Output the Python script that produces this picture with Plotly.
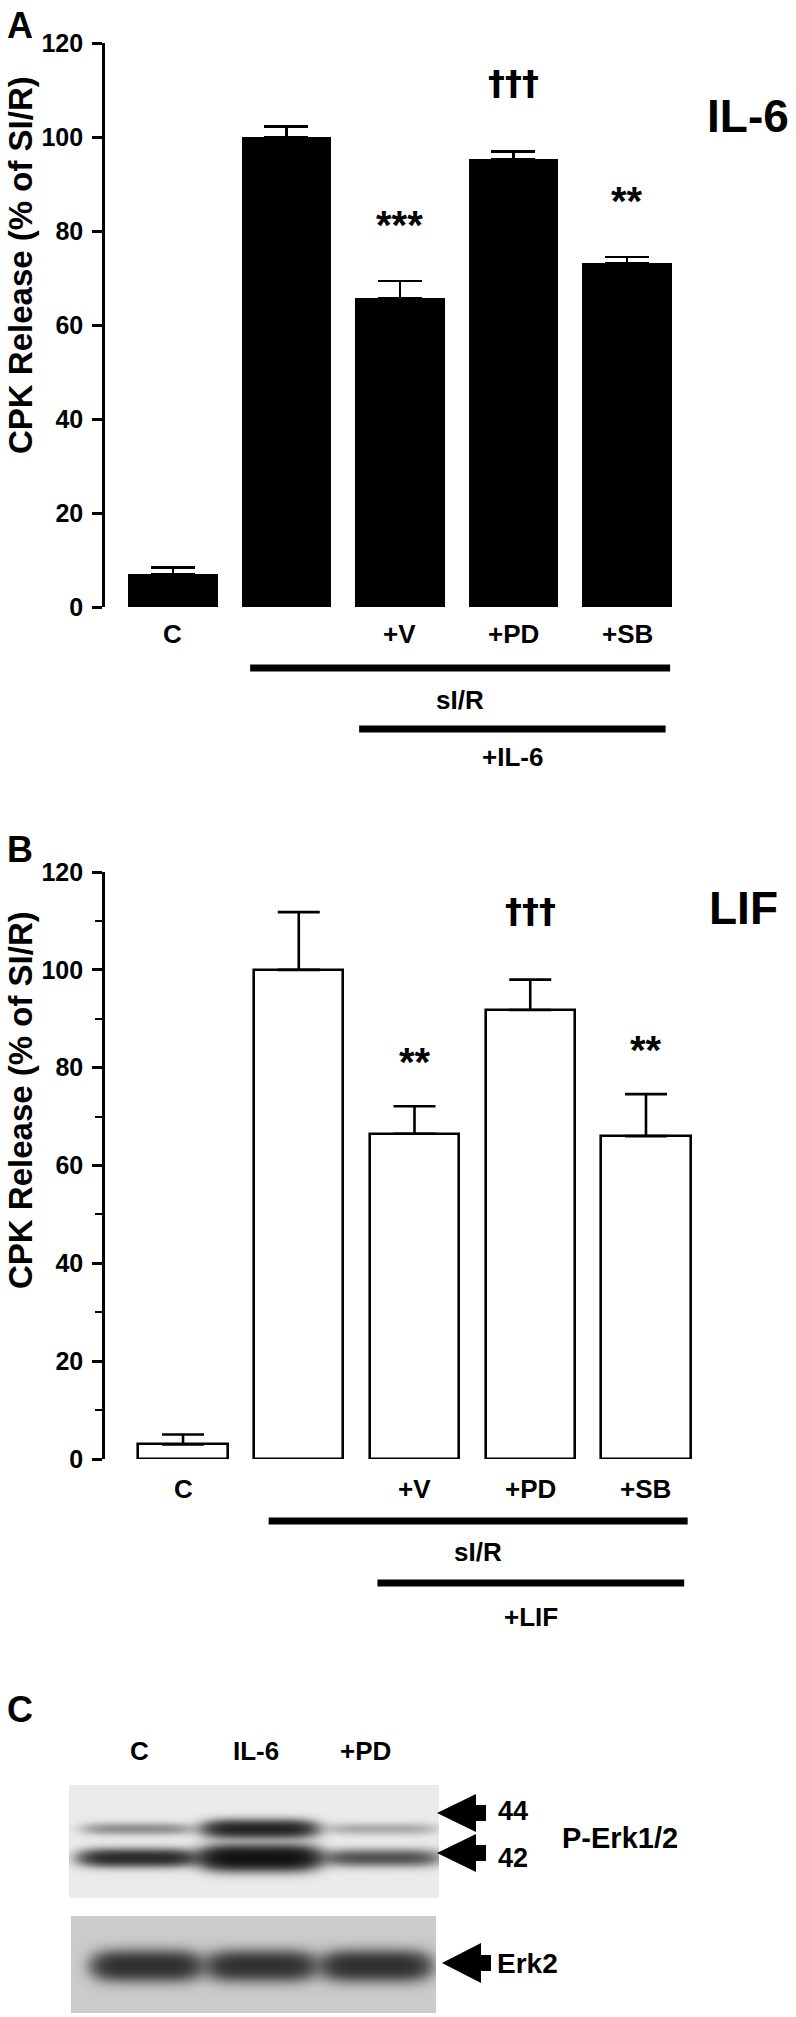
import numpy as np
import plotly.graph_objects as go

W, H = 796, 2017


def px(x):
    return x / W


def py(y):
    return 1 - y / H


# ---------------- data ----------------
categories = ["C", "sI/R", "+V", "+PD", "+SB"]
bar_labels = ["C", "", "+V", "+PD", "+SB"]

il6_values = [7.0, 100.0, 65.7, 95.3, 73.2]
il6_errors = [1.4, 2.2, 3.7, 1.6, 1.3]
il6_marks = ["", "", "***", "†††", "**"]

lif_values = [3.0, 100.0, 66.5, 91.8, 66.0]
lif_errors = [2.0, 11.8, 5.6, 6.2, 8.6]
lif_marks = ["", "", "**", "†††", "**"]

yticks = [0, 20, 40, 60, 80, 100, 120]

blot_lanes = ["C", "IL-6", "+PD"]
perk44_intensity = [0.28, 1.1, 0.18]
perk42_intensity = [1.0, 1.6, 0.6]
erk2_intensity = [1.3, 1.25, 1.3]
size_markers = ["44", "42"]

FONT = "Liberation Sans"
idx = list(range(len(categories)))

fig = go.Figure()

# Panel A bars (black)
fig.add_trace(go.Bar(
    x=idx, y=il6_values, width=0.79,
    marker=dict(color="black", line=dict(width=0)),
    error_y=dict(type="data", array=il6_errors, arrayminus=[0] * 5, symmetric=False,
                 color="black", thickness=2.6, width=22),
    xaxis="x", yaxis="y", showlegend=False, hoverinfo="skip",
))

# Panel B bars (white)
fig.add_trace(go.Bar(
    x=idx, y=lif_values, width=0.77,
    marker=dict(color="white", line=dict(color="black", width=2.6)),
    error_y=dict(type="data", array=lif_errors, arrayminus=[0] * 5, symmetric=False,
                 color="black", thickness=2.6, width=21),
    xaxis="x2", yaxis="y2", showlegend=False, hoverinfo="skip",
))


# ---------------- Western blots (panel C) ----------------
def blot_image(wpx, hpx, lane0, lane_step, bands):
    xs = np.arange(wpx) + 0.5
    ys = np.arange(hpx) + 0.5
    X, Y = np.meshgrid(xs, ys)
    Z = np.zeros_like(X)
    for yc, hh, intens, halfw in bands:
        for i, a in enumerate(intens):
            xc = lane0 + lane_step * i
            h_i = hh * (1.35 if a > 1.05 else 1.0)
            Z += a * np.exp(-((Y - yc) / h_i) ** 2) * np.exp(-(np.abs(X - xc) / halfw) ** 5)
    return xs, ys, 1 - np.exp(-1.8 * Z)


xs1, ys1, z1 = blot_image(370, 113, 68, 122,
                          [(43, 6.0, perk44_intensity, 55), (72, 8.0, perk42_intensity, 57)])
fig.add_trace(go.Heatmap(x=xs1, y=ys1, z=z1, zmin=0, zmax=1, zsmooth="best",
                         colorscale=[[0, "#ebebeb"], [1, "#050505"]], showscale=False,
                         xaxis="x3", yaxis="y3", hoverinfo="skip"))

xs2, ys2, z2 = blot_image(365, 97, 75, 114.5, [(49, 9.5, erk2_intensity, 52)])
fig.add_trace(go.Heatmap(x=xs2, y=ys2, z=z2, zmin=0, zmax=1, zsmooth="best",
                         colorscale=[[0, "#cbcbcb"], [1, "#1e1e1e"]], showscale=False,
                         xaxis="x4", yaxis="y4", hoverinfo="skip"))

tickfont = dict(family=FONT, size=25, color="black", weight="bold")
yaxis_common = dict(range=[0, 120], tickvals=yticks, showline=True, linecolor="black",
                    linewidth=2.6, ticks="outside", ticklen=10, tickwidth=2.6,
                    tickcolor="black", tickfont=tickfont, showgrid=False, zeroline=False,
                    fixedrange=True, ticklabelstandoff=4, automargin=False)
hidden = dict(visible=False, automargin=False, fixedrange=True)

fig.update_layout(
    width=W, height=H, margin=dict(l=0, r=0, t=0, b=0, pad=0, autoexpand=False),
    paper_bgcolor="white", plot_bgcolor="rgba(0,0,0,0)",
    showlegend=False, bargap=0,
    xaxis=dict(domain=[px(105), 1], range=[-0.599, 5.489], **hidden),
    yaxis=dict(domain=[py(607), py(43)], anchor="x", **yaxis_common),
    xaxis2=dict(domain=[px(105), 1], range=[-0.674, 5.296], **hidden),
    yaxis2=dict(domain=[py(1459), py(872)], anchor="x2",
                minor=dict(dtick=10, ticks="outside", ticklen=7, tickwidth=2.2,
                           tickcolor="black", showgrid=False),
                **yaxis_common),
    xaxis3=dict(domain=[px(69), px(439)], range=[0, 370], **hidden),
    yaxis3=dict(domain=[py(1898), py(1785)], range=[113, 0], anchor="x3", **hidden),
    xaxis4=dict(domain=[px(71), px(436)], range=[0, 365], **hidden),
    yaxis4=dict(domain=[py(2013), py(1916)], range=[97, 0], anchor="x4", **hidden),
)

ann = []


def text(x, y, s, size, xref="paper", yref="paper", xanchor="center", yanchor="middle",
         angle=0, yshift=0, family=FONT):
    ann.append(dict(x=x, y=y, text=s, xref=xref, yref=yref, xanchor=xanchor,
                    yanchor=yanchor, showarrow=False, textangle=angle, yshift=yshift,
                    font=dict(family=family, size=size, color="black", weight="bold")))


# Panel letters
text(px(5), py(26), "A", 36, xanchor="left")
text(px(5), py(849), "B", 36, xanchor="left")
text(px(5), py(1709), "C", 36, xanchor="left")

# Y titles
text(px(20), py(265), "CPK Release (% of SI/R)", 33, angle=-90)
text(px(20), py(1100), "CPK Release (% of SI/R)", 33, angle=-90)

# Treatment names on the right
text(px(791), py(116), "IL-6", 46, xanchor="right")
text(px(780), py(908), "LIF", 46, xanchor="right")

# Bar labels and significance marks
for i in idx:
    text(i, py(634), bar_labels[i], 26, xref="x")
    text(i, py(1489), bar_labels[i], 26, xref="x2")
    for marks, vals, errs, xr, yr, star_shift in (
            (il6_marks, il6_values, il6_errors, "x", "y", 56),
            (lif_marks, lif_values, lif_errors, "x2", "y2", 44)):
        if marks[i]:
            if "†" in marks[i]:
                text(i, vals[i] + errs[i], marks[i], 34, xref=xr, yref=yr, yshift=69,
                     family="DejaVu Sans")
            else:
                text(i, vals[i] + errs[i], marks[i], 40, xref=xr, yref=yr, yshift=star_shift)

# Group bars under the charts
groups = [
    ("x", "sI/R", 0.68, 4.38, 668, 700),
    ("x", "+IL-6", 1.64, 4.34, 729, 757),
    ("x2", "sI/R", 0.74, 4.36, 1521, 1552),
    ("x2", "+LIF", 1.68, 4.33, 1583, 1617),
]
shapes = []
for xr, lab, x0, x1, yl, yt in groups:
    shapes.append(dict(type="line", xref=xr, yref="paper", x0=x0, x1=x1, y0=py(yl), y1=py(yl),
                       line=dict(color="black", width=7)))
    text((x0 + x1) / 2, py(yt), lab, 26, xref=xr)

# Panel C labels
for lab, xc in zip(blot_lanes, [139, 256, 365]):
    text(px(xc), py(1751), lab, 26)


def arrow(tip_x, tip_y, base_x, half_h, stem_x, stem_h):
    pts = [(tip_x, tip_y), (base_x, tip_y - half_h), (base_x, tip_y - stem_h),
           (stem_x, tip_y - stem_h), (stem_x, tip_y + stem_h), (base_x, tip_y + stem_h),
           (base_x, tip_y + half_h)]
    path = "M " + " L ".join(f"{px(a):.5f},{py(b):.5f}" for a, b in pts) + " Z"
    shapes.append(dict(type="path", xref="paper", yref="paper", path=path,
                       fillcolor="black", line=dict(width=0)))


arrow(437, 1813, 476, 19, 486, 8)
arrow(437, 1853, 476, 19, 486, 8)
arrow(442, 1963, 481, 20, 491, 8)

text(px(496), py(1811), size_markers[0], 27, xanchor="left")
text(px(496), py(1858), size_markers[1], 27, xanchor="left")
text(px(560), py(1838), "P-Erk1/2", 29, xanchor="left")
text(px(495), py(1963), "Erk2", 28, xanchor="left")

fig.update_layout(annotations=ann, shapes=shapes)
fig.write_html("out.html", config={"displayModeBar": False},
               post_script="document.body.style.margin='0';document.body.style.overflow='hidden';")
